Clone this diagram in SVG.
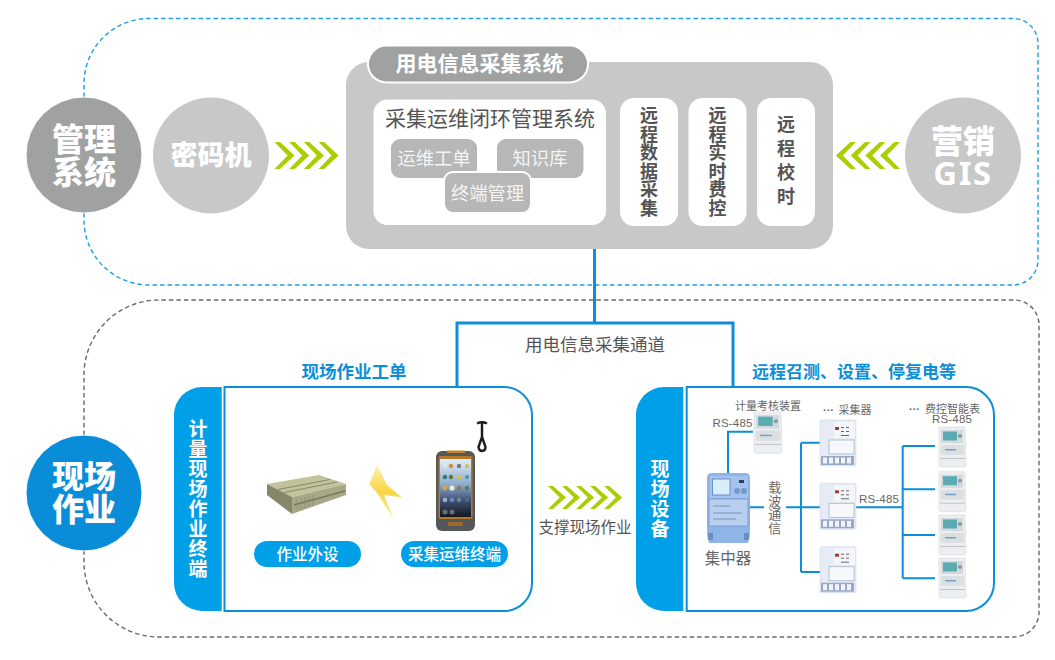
<svg xmlns="http://www.w3.org/2000/svg" width="1055" height="660" viewBox="0 0 1055 660">
<style>
text{font-family:"Noto Sans CJK SC","Noto Sans",sans-serif;text-anchor:middle}
.v{writing-mode:vertical-rl;text-orientation:upright}
.h{font-weight:900;fill:#fff;font-size:32px}
.c{font-weight:700;fill:#555;font-size:18px}
.w{font-weight:700;fill:#fff;font-size:19px;letter-spacing:1px}
.g{fill:#666;font-size:11px}
.n{fill:#555}
.chip{fill:#b7b7b7}
.chipt{fill:#f4f4f4;font-size:18.300px}
.wb{fill:#fff}
.bl{fill:none;stroke:#0a8fd8;stroke-width:2}
.mt{fill:none;stroke:#0a8fd8;stroke-width:3}
.tab{fill:#00a0e9}
.pan{fill:#fff;stroke:#0a8fd8;stroke-width:2}
.gt{fill:#0a8fd8;font-weight:700;font-size:17px}
.pt{fill:#fff;font-size:15.500px;font-weight:500}
.lat{font-family:"Liberation Sans",sans-serif;fill:#666;font-size:11.500px;letter-spacing:.2px}
.ic{filter:url(#soft)}
</style>
<defs>
<filter id="soft" x="-10%" y="-10%" width="120%" height="120%"><feGaussianBlur stdDeviation=".45"/></filter>
<polygon id="chev" points="0,0 5.500,0 20,13.500 5.500,27 0,27 13,13.500" fill="#a8cf00"/>
<g id="chevs"><use href="#chev" x="0"/><use href="#chev" x="14.700"/><use href="#chev" x="29.400"/><use href="#chev" x="44.100"/></g>
<linearGradient id="bolt" x1="0" y1="0" x2="0" y2="1"><stop offset="0" stop-color="#fdf0b0"/><stop offset=".5" stop-color="#fbd445"/><stop offset="1" stop-color="#fdf0b0"/></linearGradient>
<linearGradient id="scr" x1="0" y1="0" x2="0" y2="1"><stop offset="0" stop-color="#e4eefa"/><stop offset=".45" stop-color="#8aa8cc"/><stop offset=".72" stop-color="#3c4f72"/><stop offset="1" stop-color="#14181e"/></linearGradient>
<g id="meter" class="ic">
<path d="M1 0H27L28 38Q28 40 26 40H3Q1 40 1 38Z" fill="#eceef0" stroke="#d5d8dc" stroke-width=".6"/>
<rect x="3" y="3" width="22" height="13" fill="#d2dadd"/>
<rect x="5" y="4.500" width="14" height="9" fill="#5aacb2"/>
<circle cx="22" cy="9" r="2" fill="#8c9aa0"/>
<rect x="3" y="18" width="23" height="10" fill="#dadfe2"/>
<rect x="7" y="22" width="11" height="1.500" fill="#7f9cc4"/>
<rect x="2" y="31" width="25" height="1" fill="#c0c4c8"/>
</g>
<g id="coll" class="ic">
<rect x="0" y="0" width="36" height="46" rx="1.500" fill="#e6ecf7" stroke="#cdd6e8" stroke-width=".6"/>
<rect x="14" y="2" width="21" height="16" fill="#f4f6fa"/>
<rect x="15" y="7" width="4" height="3" fill="#a83a3a"/>
<path d="M21 7.500h3m2 0h3m-8 4h3m2 0h3m-8 4h8" stroke="#666" stroke-width="1" fill="none"/>
<rect x="9" y="20" width="25" height="14" fill="#f7f8fb" stroke="#aab4c6" stroke-width=".8"/>
<rect x="1" y="36" width="33" height="9" fill="#98a8c8"/>
<rect x="3" y="37.500" width="4" height="6" fill="#f2f4f8"/><rect x="9" y="37.500" width="4" height="6" fill="#f2f4f8"/><rect x="15" y="37.500" width="4" height="6" fill="#f2f4f8"/><rect x="21" y="37.500" width="4" height="6" fill="#f2f4f8"/><rect x="27" y="37.500" width="4" height="6" fill="#f2f4f8"/>
</g>
</defs>

<g id="connectors">
<path id="mgmt-zone" d="M84 97V83A65 65 0 0 1 149 18.500H1013A25 25 0 0 1 1038 43.500V260A25 25 0 0 1 1013 285H149A65 65 0 0 1 84 220V213" fill="none" stroke="#1f9fe0" stroke-width="1.400" stroke-dasharray="4.500 3"/>
<path id="field-zone" d="M84 435V375A75 75 0 0 1 159 300H1014A25 25 0 0 1 1039 325V612A25 25 0 0 1 1014 637H159A75 75 0 0 1 84 562V551" fill="none" stroke="#6a6a6a" stroke-width="1.400" stroke-dasharray="4.500 3"/>
<path class="mt" d="M594.500 249V323M457 386V323H733V386"/>
<path class="bl" d="M728 473V431.700H753M750 507.300H764M786 507.300H820M801 442.700V572M801 442.700H820M801 572H820M856 507.300H902.700M902.700 446V578.300M902.700 446H935M902.700 489.300H935M902.700 535H935M902.700 578.300H935"/>
</g>

<g id="node-mgmt"><circle cx="84" cy="155" r="58" fill="#a0a1a1" stroke="#fff" stroke-width="1"/><text class="h"><tspan x="84" y="151">管理</tspan><tspan x="84" y="184">系统</tspan></text></g>
<g id="node-cipher"><circle cx="211" cy="155.500" r="58" fill="#c8c8c8"/><text class="h" x="211" y="165" style="font-size:27px">密码机</text></g>
<g id="chevrons-left"><use href="#chevs" transform="translate(274.500 142)"/></g>
<g id="node-gis"><circle cx="963" cy="155.500" r="58" fill="#c8c8c8"/><text class="h"><tspan x="963" y="153">营销</tspan><tspan x="963" y="185" style="font-family:'Noto Sans',sans-serif;font-weight:700;font-size:33px;letter-spacing:1.500px">GIS</tspan></text></g>
<g id="chevrons-right"><use href="#chevs" transform="translate(900 142) scale(-1 1)"/></g>

<g id="node-main">
<rect x="346" y="62" width="487" height="187" rx="23" fill="#c8c8c8"/>
<rect x="368" y="45.500" width="220" height="37" rx="18.500" fill="#a0a1a1" stroke="#fff" stroke-width="2"/>
<text x="479.500" y="71" style="fill:#fff;font-weight:700;font-size:21px">用电信息采集系统</text>
</g>
<g id="node-closedloop">
<rect class="wb" x="373.500" y="99.500" width="232.500" height="125.500" rx="14"/>
<text class="n" x="490" y="126" style="font-size:21px">采集运维闭环管理系统</text>
</g>
<g id="node-order"><rect class="chip" x="391" y="139" width="86" height="39" rx="9"/><text class="chipt" x="434" y="165">运维工单</text></g>
<g id="node-kb"><rect class="chip" x="497" y="139" width="86.500" height="39" rx="9"/><text class="chipt" x="540" y="165">知识库</text></g>
<g id="node-terminal"><rect class="chip" x="444" y="172" width="87" height="41" rx="9" stroke="#fff" stroke-width="2"/><text class="chipt" x="487.500" y="200">终端管理</text></g>
<g id="node-col1"><rect class="wb" x="620" y="98" width="58" height="128" rx="14"/><text class="c v" x="649" y="162" style="letter-spacing:.5px">远程数据采集</text></g>
<g id="node-col2"><rect class="wb" x="688.500" y="98" width="58" height="128" rx="14"/><text class="c v" x="717.500" y="162" style="letter-spacing:.5px">远程实时费控</text></g>
<g id="node-col3"><rect class="wb" x="757" y="98" width="58" height="128" rx="14"/><text class="c v" x="786" y="163" style="letter-spacing:6px">远程校时</text></g>

<text id="label-channel" class="n" x="595" y="351" style="font-size:17.500px">用电信息采集通道</text>
<text class="gt" x="354" y="378" style="font-size:17.500px">现场作业工单</text>
<text class="gt" x="854" y="378">远程召测、设置、停复电等</text>

<g id="node-field"><circle cx="84" cy="493" r="58" fill="#0a8dd8" stroke="#fff" stroke-width="1"/><text class="h"><tspan x="84" y="488">现场</tspan><tspan x="84" y="521">作业</tspan></text></g>

<g id="node-terminal-panel">
<path class="tab" d="M221.700 387V611H202A28 28 0 0 1 174 583V415A28 28 0 0 1 202 387Z"/>
<text class="w v" x="198" y="499.500">计量现场作业终端</text>
<path class="pan" d="M224.500 387H504A28 28 0 0 1 532 415V583A28 28 0 0 1 504 611H224.500Z"/>
</g>
<g id="node-outdoor">
<g class="ic">
<polygon points="267,484 319,475 346,484 292,497" fill="#c2c29c"/>
<polygon points="267,484 292,497 292,514 267,495" fill="#85866a"/>
<polygon points="292,497 346,484 346,495 292,514" fill="#a8a888"/>
<path d="M278 489.500L330 479.500M284 492.500L337 482" stroke="#88886a" stroke-width="1" fill="none"/>
<path d="M294 505L345 491" stroke="#77775c" stroke-width="1.500" fill="none"/>
<path d="M297 499V510M301 498V509M305 497V508M309 496V507M313 495V506" stroke="#8a8a6c" stroke-width=".8" fill="none"/>
</g>
<rect x="254" y="541" width="107" height="26" rx="13" class="tab"/><text class="pt" x="307.500" y="559.500">作业外设</text>
</g>
<polygon id="bolt-icon" class="ic" points="377,465 387,485 401.700,497.300 384,495 394,520 378,494 369.300,484.300" fill="url(#bolt)"/>
<g id="node-handheld">
<g class="ic">
<rect x="436" y="451" width="39" height="80" rx="6" fill="#55585a"/>
<rect x="447" y="450.500" width="18" height="2.500" fill="#c48428"/>
<rect x="438.500" y="456" width="34" height="63" rx="2" fill="#b5782a"/>
<rect x="440" y="459" width="31" height="58" fill="url(#scr)"/>
<circle cx="445" cy="466" r="2" fill="#dfe6ee"/><circle cx="451" cy="466" r="2.200" fill="#d98a30"/><circle cx="459" cy="466" r="2.200" fill="#7a7a7a"/><circle cx="467" cy="466" r="2" fill="#c4c840"/>
<circle cx="445" cy="477" r="2.300" fill="#3a7a70"/><circle cx="451" cy="477" r="2.200" fill="#5f7a30"/><circle cx="459" cy="477" r="2.200" fill="#e0c040"/><circle cx="467" cy="477" r="2" fill="#4a9a90"/>
<circle cx="445" cy="488" r="2.300" fill="#d8a840"/><circle cx="452" cy="488" r="2.600" fill="#f4ecc0"/><circle cx="459" cy="488" r="2.200" fill="#8a7a50"/><circle cx="467" cy="488" r="2.200" fill="#587a60"/>
<circle cx="445" cy="500" r="2.300" fill="#a0b0c8"/><circle cx="452" cy="500" r="2.300" fill="#6a88c8"/><circle cx="459" cy="500" r="2.200" fill="#6a8a98"/><circle cx="467" cy="500" r="2" fill="#5a6a80"/>
<circle cx="445" cy="512" r="2.500" fill="#6a6e74"/><circle cx="452" cy="512" r="2.500" fill="#6a6e74"/>
<rect x="448" y="522" width="15" height="4" rx="1" fill="#9a6a2a"/>
<path d="M477 423.500Q482 421 487 423.500M482 423V437M482 437L478.500 447Q479 451 482 451Q485.500 451 485.500 447Z" fill="none" stroke="#1c1c1c" stroke-width="2.400"/>
</g>
<rect x="401" y="541" width="107" height="26" rx="13" class="tab"/><text class="pt" x="454.500" y="559.500">采集运维终端</text>
</g>

<g id="chevrons-support" transform="translate(548 486) scale(.9 .85)"><use href="#chev" x="0"/><use href="#chev" x="15.600"/><use href="#chev" x="31.200"/><use href="#chev" x="46.800"/><use href="#chev" x="62.400"/></g>
<text class="n" x="585" y="533" style="font-size:15.500px">支撑现场作业</text>

<g id="node-device-panel">
<path class="tab" d="M683.300 387V611H664A28 28 0 0 1 636 583V415A28 28 0 0 1 664 387Z"/>
<text class="w v" x="660" y="499">现场设备</text>
<path class="pan" d="M686.700 387H966A28 28 0 0 1 994 415V583A28 28 0 0 1 966 611H686.700Z" style="fill:none"/>
</g>

<g id="node-audit"><text class="g" x="768" y="410">计量考核装置</text><text class="lat" x="732.500" y="427">RS-485</text><use href="#meter" transform="translate(753 412) scale(1.040 1.030)"/></g>
<g id="node-concentrator">
<g class="ic">
<path d="M707 478Q707 473 712 473H745Q750 473 750 478V532Q750 537 748 543H709Q707 537 707 532Z" fill="#8fb5e6"/>
<rect x="710" y="476" width="38" height="22" fill="#a3c2ec"/>
<rect x="712.500" y="479" width="17.500" height="16" fill="#d8eef8" stroke="#6f8ecb" stroke-width="1"/>
<circle cx="737" cy="491" r="3" fill="#7798cf"/><circle cx="744" cy="491" r="3" fill="#7798cf"/><rect x="739" y="480" width="5" height="3" fill="#2c3a66"/>
<rect x="709" y="499" width="39" height="27" fill="#b8cff0" stroke="#6f8ecb" stroke-width=".7"/>
<path d="M713 506H730M713 513H742M713 519H736" stroke="#7c93bd" stroke-width="1" fill="none"/>
<rect x="708" y="533" width="5" height="7" fill="#6a8cc4"/><rect x="744" y="533" width="5" height="7" fill="#6a8cc4"/>
</g>
<text class="g" x="728" y="564" style="font-size:15.500px">集中器</text>
</g>
<text id="label-carrier" class="g v" x="774.700" y="508" style="font-size:13px;letter-spacing:.5px">载波通信</text>
<g id="node-collectors"><text class="g" style="text-anchor:start"><tspan x="823" y="414" style="font-family:'Liberation Sans',sans-serif;font-weight:700">···</tspan><tspan x="838.500" y="414">采集器</tspan></text><use href="#coll" x="820" y="420"/><use href="#coll" x="820" y="483.300"/><use href="#coll" x="820" y="546.700"/></g>
<text class="lat" x="879" y="503">RS-485</text>
<g id="node-smart-meters"><text class="g" style="text-anchor:start"><tspan x="909" y="413" style="font-family:'Liberation Sans',sans-serif;font-weight:700">···</tspan><tspan x="925" y="413">费控智能表</tspan></text><text class="lat" x="952" y="423">RS-485</text><use href="#meter" x="938" y="427"/><use href="#meter" x="938" y="471.700"/><use href="#meter" x="938" y="515"/><use href="#meter" x="938" y="558"/></g>
</svg>
